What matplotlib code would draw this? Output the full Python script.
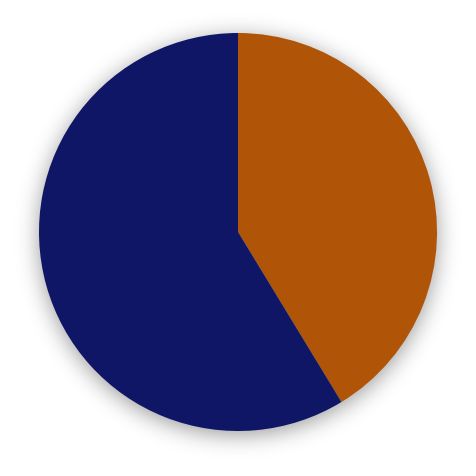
import math
import numpy as np
import matplotlib
matplotlib.use("Agg")
import matplotlib.pyplot as plt

# 数据
labels = ["A", "B"]
values = [41.3, 58.7]
colors = ["#B05408", "#0E1665"]

fig = plt.figure(figsize=(4.76, 4.76), dpi=100)
ax = fig.add_axes([0, 0, 1, 1])
ax.set_aspect("equal")
ax.axis("off")

# 阴影 (模糊的灰色圆)
xs = np.linspace(-238 / 199, 238 / 199, 476)
ys = np.linspace(-244 / 199, 232 / 199, 476)
X, Y = np.meshgrid(xs, ys)
d = (np.sqrt(X ** 2 + (Y + 4 / 199) ** 2) - 1.0) * 199
sigma = 11.0
erfc = np.vectorize(lambda v: math.erfc(v))
alpha = 0.4 * 0.5 * erfc(d / (sigma * math.sqrt(2)))
rgba = np.zeros((476, 476, 4))
rgba[..., 3] = alpha
ax.imshow(rgba, extent=(xs[0], xs[-1], ys[0], ys[-1]), origin="lower", zorder=0)

ax.pie(values, colors=colors, startangle=90, counterclock=False,
       radius=1.0, center=(0, 0), wedgeprops={"linewidth": 0})
ax.set_xlim(-238 / 199, 238 / 199)
ax.set_ylim(-244 / 199, 232 / 199)

fig.savefig("out.png", dpi=100)
